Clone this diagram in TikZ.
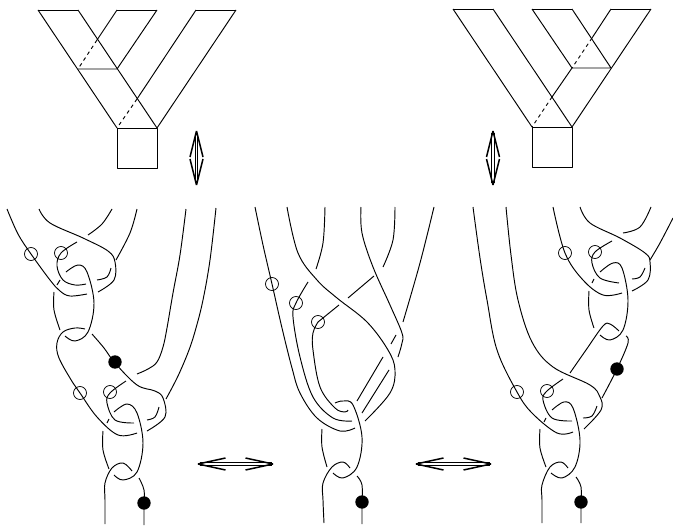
\documentclass[tikz,border=0pt]{standalone}
\tikzset{
  edge line/.style={line width=0.95pt,line join=round},
  cut line/.style={line width=0.95pt,dash pattern=on 3.5pt off 3.5pt},
  strand/.style={line width=0.95pt,line cap=butt},
  ring/.style={line width=0.75pt},
  bead/.style={fill=black,draw=none},
  arrow wing/.style={line width=1.5pt,line join=miter},
  harrow/.pic={
    \draw[arrow wing] (-37.5,0)--(-10,-6) (-37.5,0)--(-10,6) (37.5,0)--(10,-6) (37.5,0)--(10,6);
    \draw[line width=0.9pt] (-36,-1.1)--(36,-1.1) (-36,1.1)--(36,1.1);
  },
  varrow/.pic={
    \draw[arrow wing] (0,-27)--(-6.5,-1) (0,-27)--(6.5,-1) (0,27)--(-6.5,1) (0,27)--(6.5,1);
    \draw[line width=0.9pt] (-1.1,-25)--(-1.1,25) (1.1,-25)--(1.1,25);
  }
}
\newcommand{\crv}[1]{\draw[strand] plot[smooth,tension=0.6] coordinates {#1};}
\begin{document}
\begin{tikzpicture}[x=1pt,y=-1pt]
\useasboundingbox (0,0) rectangle (673,527);
% top-left web
\draw[edge line] (38,10)--(78,10) (117,10)--(157,10) (196,10)--(236,10);
\draw[edge line] (38,10)--(117,128) (78,10)--(157,128) (236,10)--(157,128);
\draw[edge line] (157,10)--(117,69) (78,69)--(117,69);
\draw[edge line] (117,10)--(97,40) (196,10)--(137,99);
\draw[cut line] (97,40)--(78,69) (137,99)--(117,128);
\draw[edge line] (117,128) rectangle (157,168);
% top-right web
\draw[edge line] (453,9)--(493,9) (532,9)--(572,9) (611,9)--(651,9);
\draw[edge line] (453,9)--(532,127) (493,9)--(572,127) (651,9)--(572,127);
\draw[edge line] (532,9)--(572,68) (572,9)--(611,68) (572,68)--(611,68);
\draw[edge line] (611,9)--(592,38) (572,68)--(552,97);
\draw[cut line] (592,38)--(572,68) (552,97)--(532,127);
\draw[edge line] (532,127) rectangle (572,167);
% arrows
\pic at (196.5,158) {varrow};
\pic at (493,158) {varrow};
\pic at (235.5,464) {harrow};
\pic at (453.5,464) {harrow};

% left knot
\crv{(7,209)(18,234)(31,254)(50,280)(60,291)(70,296)(87,294)}
\crv{(39,209)(50,223)(83,238)(108,251)(115,262)(114,280)(98,292)}
\crv{(112,209)(102,224)(88,235)}
\crv{(77,242)(61,253)(57,266)(63,280)(75,285)(86,284)}
\crv{(137,209)(130,233)(116,260)}
\crv{(66,272)(78,265)(87,272)(94,303)(88,332)(75,341)(65,336)}
\crv{(97,280)(107,277)(111,268)}
\crv{(60,280)(57,285)}
\crv{(54,292)(54,310)(60,330)}
\crv{(85,329)(75,328)(63,332)(57,343)(59,358)(73,383)(80,393)(97,417)(118,435)(137,433)}
\crv{(92,334)(104,348)(115,363)(137,385)(155,391)(163,398)(165,417)(147,431)}
\crv{(186,209)(180,255)(173,293)(167,328)(163,347)(157,362)(148,369)(137,374)}
\crv{(126,381)(110,393)(107,403)(115,420)(134,423)}
\crv{(216,208)(210,260)(203,300)(196,328)(189,350)(178,376)(166,399)}
\crv{(114,412)(127,404)(137,413)(143,443)(137,472)(123,480)(114,475)}
\crv{(147,420)(155,417)(159,407)}
\crv{(109,419)(107,423)}
\crv{(103,431)(103,450)(109,469)}
\crv{(132,471)(123,463)(112,468)(105,483)(105,500)(105,524)}
\crv{(139,478)(144,490)(144,505)(144,525)}
\draw[ring] (31,254) circle (6.5);
\draw[ring] (61,253) circle (6.5);
\draw[ring] (80,393) circle (6.5);
\draw[ring] (110,392) circle (6.5);
\fill[bead] (115,362) circle (6.7);
\fill[bead] (144,503) circle (6.7);

% middle knot
\crv{(255,207)(263,245)(272,284)(282,328)(292,368)(300,393)(317,418)(340,431)(355,428)}
\crv{(287,207)(298,253)(317,280)(337,298)(367,322)(388,350)(395,370)(390,393)(365,421)}
\crv{(325,207)(323,243)(316,269)}
\crv{(308,282)(296,303)(293,317)(300,357)(313,397)(333,418)(352,421)}
\crv{(361,207)(362,233)(373,267)(390,305)(402,333)(402,343)(398,357)}
\crv{(395,207)(393,240)(383,267)}
\draw[strand] (374,276)--(348,298) (339,305)--(318,322);
\crv{(318,322)(313,333)(313,350)(320,387)(335,408)(345,412)(348,410)}
\crv{(434,207)(420,263)(403,322)}
\draw[strand] (396,335)--(391,344) (383,357)--(357,401) (389,370)--(362,413);
\crv{(335,403)(343,401)(353,405)(362,437)(357,467)(343,478)(333,473)}
\crv{(322,429)(322,447)(327,467)}
\crv{(350,468)(343,462)(332,467)(323,483)(323,500)(324,523)}
\crv{(357,476)(362,485)(362,505)(362,524)}
\draw[ring] (272,284) circle (6.5);
\draw[ring] (296,303) circle (6.5);
\draw[ring] (318,322) circle (6.5);
\fill[bead] (362,502) circle (6.7);

% right knot
\crv{(473,207)(480,258)(487,300)(497,350)(517,392)(532,413)(557,433)(573,432)}
\crv{(506,207)(511,255)(518,300)(532,342)(553,367)(590,385)(600,397)(601,410)(584,429)}
\crv{(553,207)(565,253)(583,280)(603,295)(622,293)}
\crv{(580,207)(590,223)(620,238)(645,253)(650,262)(648,280)(632,291)}
\crv{(651,207)(640,227)(623,233)}
\crv{(612,241)(595,252)(592,263)(600,278)(619,283)}
\crv{(673,218)(660,243)(650,260)}
\crv{(600,272)(613,263)(622,268)(628,300)(623,330)(610,340)(600,335)}
\crv{(632,279)(640,277)(645,268)}
\crv{(594,279)(592,283)}
\crv{(589,291)(589,310)(594,328)}
\crv{(619,331)(610,324)(603,326)(586,350)(570,373)}
\crv{(563,379)(547,391)(543,400)(552,418)(572,421)}
\crv{(626,336)(628,343)(617,369)(602,398)}
\crv{(552,410)(564,402)(573,408)(580,440)(575,467)(562,478)(551,473)}
\crv{(583,418)(592,416)(597,406)}
\crv{(546,418)(544,422)}
\crv{(540,429)(540,448)(546,467)}
\crv{(568,468)(561,462)(550,467)(542,485)(542,500)(542,523)}
\crv{(576,477)(581,487)(581,505)(581,523)}
\draw[ring] (565,253) circle (6.5);
\draw[ring] (595,252) circle (6.5);
\draw[ring] (517,392) circle (6.5);
\draw[ring] (547,391) circle (6.5);
\fill[bead] (617,369) circle (6.7);
\fill[bead] (581,502) circle (6.7);
\end{tikzpicture}
\end{document}
